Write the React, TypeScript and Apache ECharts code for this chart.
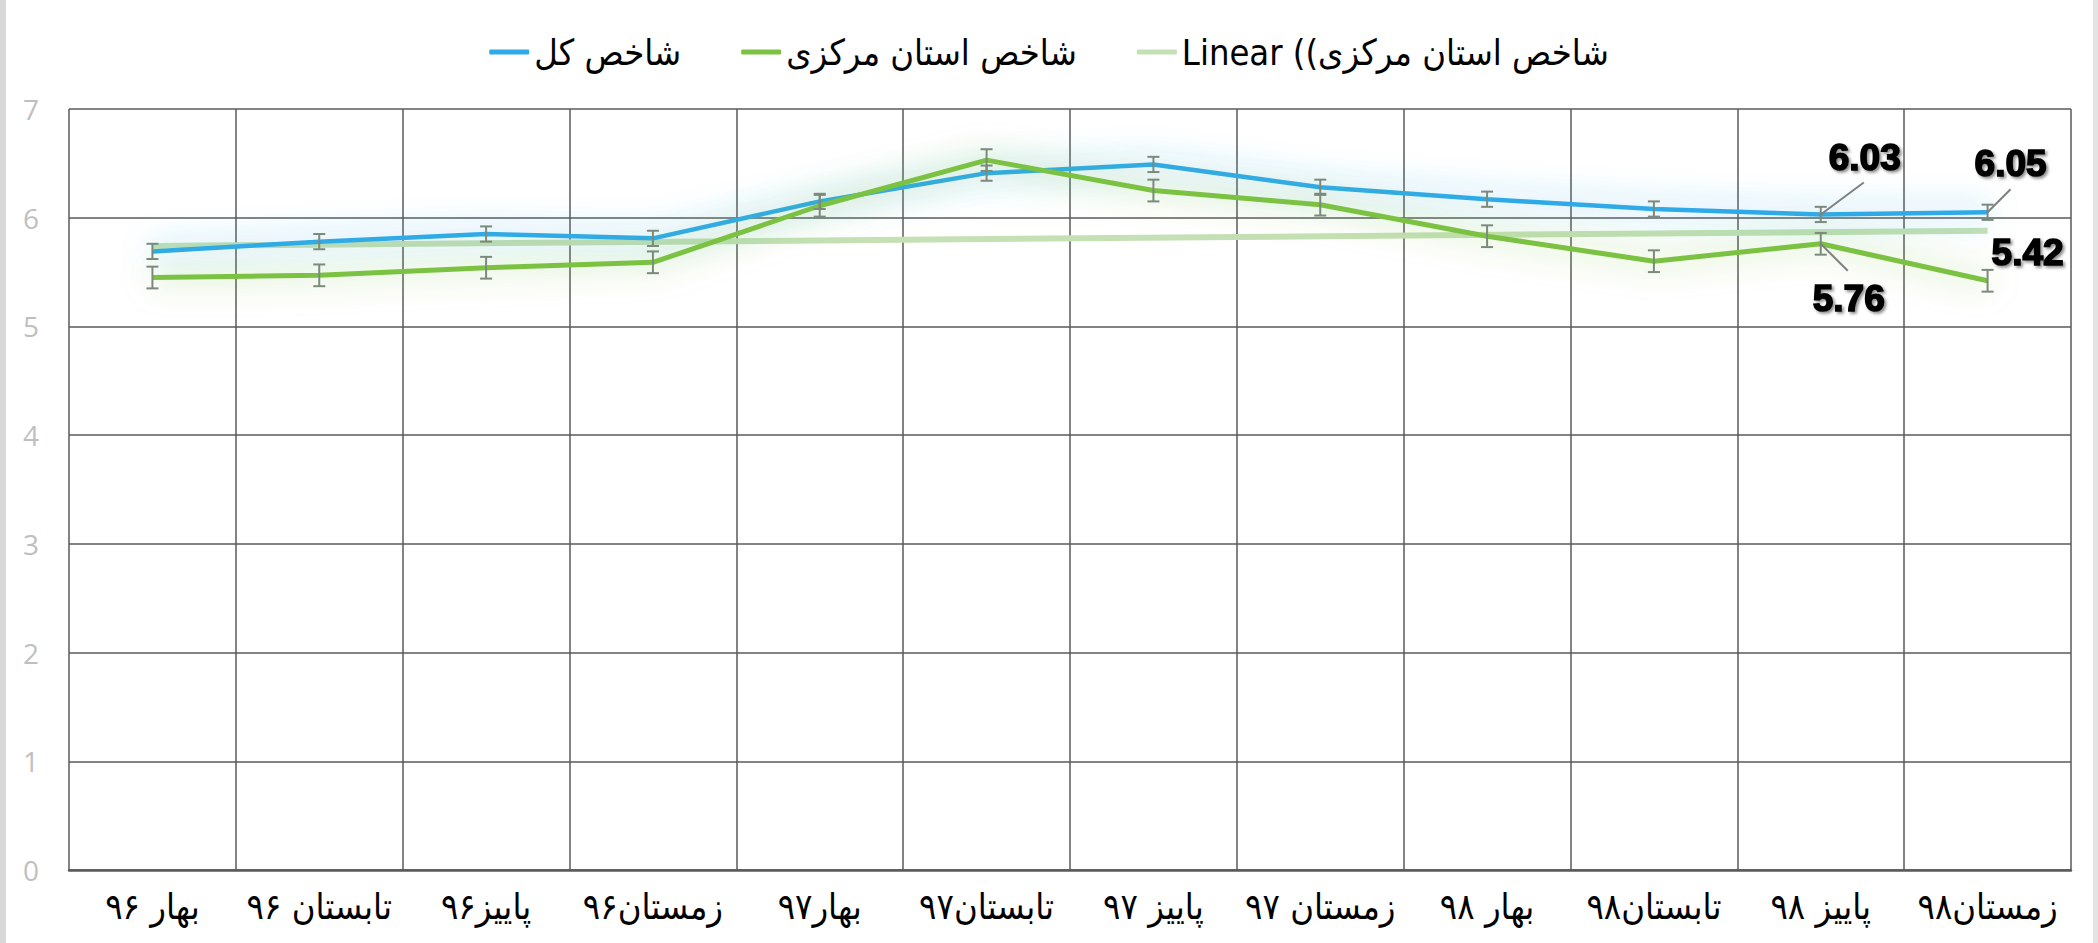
import React, { useEffect, useRef } from 'react';
import * as echarts from 'echarts';

const categories = [
  'بهار ۹۶', 'تابستان ۹۶', 'پاییز۹۶', 'زمستان۹۶', 'بهار۹۷', 'تابستان۹۷',
  'پاییز ۹۷', 'زمستان ۹۷', 'بهار ۹۸', 'تابستان۹۸', 'پاییز ۹۸', 'زمستان۹۸',
];
const seriesNames = ['شاخص کل', 'شاخص استان مرکزی', 'Linear ((شاخص استان مرکزی'];
const totalIndex = [5.69, 5.78, 5.85, 5.81, 6.15, 6.41, 6.49, 6.28, 6.17, 6.08, 6.03, 6.05];
const markaziIndex = [5.45, 5.47, 5.54, 5.59, 6.11, 6.53, 6.25, 6.12, 5.83, 5.6, 5.76, 5.42];
const trendStartEnd = [5.74, 5.88];
const totalErr = 0.07;
const markaziErr = 0.1;
const labeledTotal = [10, 11];
const labeledMarkazi = [10, 11];

const BLUE = '#2eaae8';
const GREEN = '#7cc242';
const TREND = '#c5e0b4';
const GRID = '#5a5a5a';
const ARABIC_FONT = '"DejaVu Sans Condensed", "DejaVu Sans", sans-serif';

// label placement styles (offset of label centre / leader end from the point)
const totalLabelStyle: Record<number, any> = {
  10: { dx: 44, dy: -57, lx: 43, ly: -32 },
  11: { dx: 23, dy: -49, lx: 23, ly: -23 },
};
const markaziLabelStyle: Record<number, any> = {
  10: { dx: 28, dy: 55, lx: 27, ly: 27 },
  11: { dx: 40, dy: -28 },
};

function errorSeries(values: number[], err: number) {
  return {
    type: 'custom',
    z: 5,
    silent: true,
    data: values.map((v, i) => [i, v, err]),
    encode: { x: 0, y: 1 },
    renderItem: (params: any, api: any) => {
      const i = api.value(0);
      const v = api.value(1);
      const e = api.value(2);
      const top = api.coord([i, v + e]);
      const bot = api.coord([i, v - e]);
      const hw = 6;
      const st = { stroke: '#7b8a7b', lineWidth: 2 };
      return {
        type: 'group',
        children: [
          { type: 'line', shape: { x1: top[0], y1: top[1], x2: bot[0], y2: bot[1] }, style: st },
          { type: 'line', shape: { x1: top[0] - hw, y1: top[1], x2: top[0] + hw, y2: top[1] }, style: st },
          { type: 'line', shape: { x1: bot[0] - hw, y1: bot[1], x2: bot[0] + hw, y2: bot[1] }, style: st },
        ],
      };
    },
  };
}

function labelSeries(values: number[], idxs: number[], styles: Record<number, any>) {
  return {
    type: 'custom',
    z: 10,
    silent: true,
    data: idxs.map((i) => [i, values[i]]),
    encode: { x: 0, y: 1 },
    renderItem: (params: any, api: any) => {
      const i = api.value(0);
      const v = api.value(1);
      const p = api.coord([i, v]);
      const s = styles[i];
      const children: any[] = [];
      if (s.lx !== undefined) {
        children.push({
          type: 'line',
          shape: { x1: p[0], y1: p[1], x2: p[0] + s.lx, y2: p[1] + s.ly },
          style: { stroke: '#808080', lineWidth: 2 },
        });
      }
      children.push({
        type: 'text',
        x: p[0] + s.dx,
        y: p[1] + s.dy,
        style: {
          text: v.toFixed(2),
          fill: '#000',
          fontSize: 37,
          fontWeight: 'bold',
          fontFamily: '"Liberation Sans", Arial, sans-serif',
          align: 'center',
          verticalAlign: 'middle',
          stroke: '#000',
          lineWidth: 1.6,
          textShadowColor: 'rgba(0,0,0,0.45)',
          textShadowBlur: 3,
          textShadowOffsetX: 2,
          textShadowOffsetY: 2,
        },
      });
      return { type: 'group', children };
    },
  };
}

export default function App() {
  const ref = useRef<HTMLDivElement>(null);
  useEffect(() => {
    if (!ref.current) return;
    const chart = echarts.init(ref.current, null, { renderer: 'svg' });
    chart.setOption({
      animation: false,
      backgroundColor: '#ffffff',
      graphic: [
        { type: 'rect', left: 0, top: 0, shape: { width: 6, height: 943 }, style: { fill: '#d9d9d9' } },
        { type: 'rect', right: 0, top: 0, shape: { width: 5, height: 943 }, style: { fill: '#e3e3e3' } },
      ],
      legend: {
        data: seriesNames,
        top: 29,
        left: 'center',
        icon: 'roundRect',
        itemWidth: 40,
        itemHeight: 5,
        itemGap: 60,
        textStyle: { fontSize: 36, color: '#000', fontFamily: ARABIC_FONT },
      },
      grid: { left: 69, right: 27, top: 109, bottom: 73, containLabel: false },
      xAxis: {
        type: 'category',
        data: categories,
        boundaryGap: true,
        axisTick: { show: false },
        axisLine: { lineStyle: { color: GRID, width: 2.5 } },
        axisLabel: { color: '#000', fontSize: 36, margin: 18, fontFamily: ARABIC_FONT, interval: 0 },
        splitLine: { show: true, interval: 0, lineStyle: { color: GRID, width: 1.5 } },
      },
      yAxis: {
        type: 'value',
        min: 0,
        max: 7,
        interval: 1,
        axisLine: { show: false },
        axisTick: { show: false },
        axisLabel: { color: '#bfbfbf', fontSize: 28, margin: 30, fontFamily: '"Open Sans", sans-serif' },
        splitLine: { show: true, lineStyle: { color: GRID, width: 1.5 } },
      },
      series: [
        {
          name: seriesNames[0],
          type: 'line',
          data: totalIndex,
          showSymbol: false,
          z: 4,
          color: BLUE,
          lineStyle: { color: BLUE, width: 4.5, shadowColor: 'rgba(46,170,232,0.85)', shadowBlur: 32 },
        },
        {
          name: seriesNames[1],
          type: 'line',
          data: markaziIndex,
          showSymbol: false,
          z: 4,
          color: GREEN,
          lineStyle: { color: GREEN, width: 5, shadowColor: 'rgba(124,194,66,0.75)', shadowBlur: 32 },
        },
        {
          name: seriesNames[2],
          type: 'line',
          data: [[0, trendStartEnd[0]], [categories.length - 1, trendStartEnd[1]]],
          showSymbol: false,
          z: 3,
          color: TREND,
          lineStyle: { color: TREND, width: 6 },
        },
        errorSeries(totalIndex, totalErr),
        errorSeries(markaziIndex, markaziErr),
        labelSeries(totalIndex, labeledTotal, totalLabelStyle),
        labelSeries(markaziIndex, labeledMarkazi, markaziLabelStyle),
      ],
    });
    return () => chart.dispose();
  }, []);
  return (
    <div
      ref={ref}
      style={{ position: 'fixed', left: 0, top: 0, width: 2098, height: 943, background: '#fff' }}
    />
  );
}
